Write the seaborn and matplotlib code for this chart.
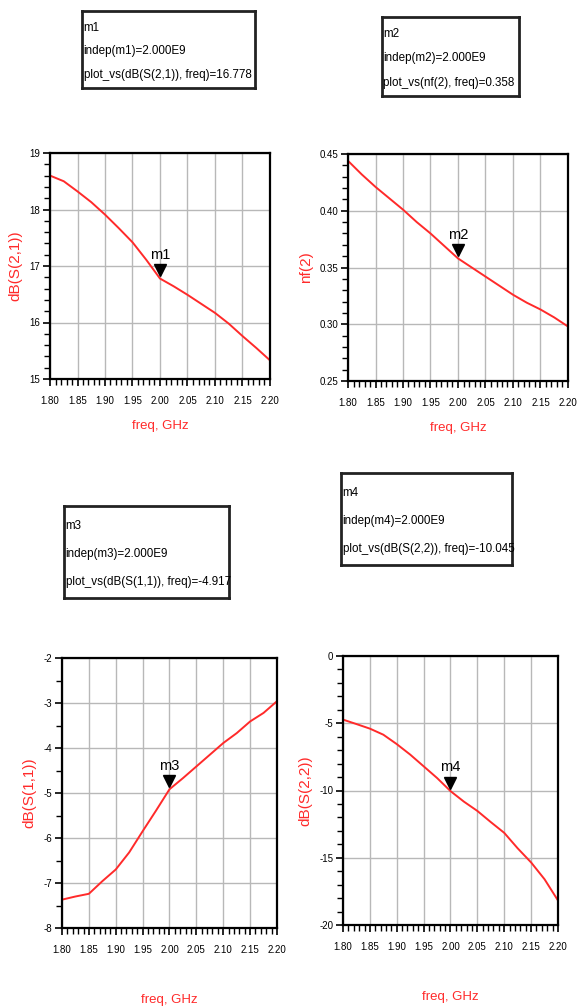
import numpy as np
import pandas as pd
import matplotlib
matplotlib.use("Agg")
import matplotlib.pyplot as plt
import matplotlib.transforms as mtrans
from matplotlib.ticker import MultipleLocator
import seaborn as sns

sns.set_theme(style="white")
plt.rcParams['font.family'] = ['Liberation Sans', 'DejaVu Sans']

freq = [1.800, 1.825, 1.850, 1.875, 1.900, 1.925, 1.950, 1.975, 2.000,
        2.025, 2.050, 2.075, 2.100, 2.125, 2.150, 2.175, 2.200]
s21 = [18.60, 18.50, 18.32, 18.13, 17.91, 17.67, 17.42, 17.11, 16.778,
       16.64, 16.49, 16.33, 16.17, 15.98, 15.76, 15.55, 15.33]
nf2 = [0.444, 0.432, 0.421, 0.411, 0.401, 0.390, 0.380, 0.369, 0.358,
       0.350, 0.342, 0.334, 0.326, 0.319, 0.313, 0.306, 0.298]
s11 = [-7.37, -7.30, -7.24, -6.96, -6.70, -6.32, -5.85, -5.39, -4.917,
       -4.67, -4.41, -4.15, -3.89, -3.67, -3.41, -3.22, -2.96]
s22 = [-4.73, -5.06, -5.40, -5.85, -6.55, -7.33, -8.20, -9.07, -10.045,
       -10.83, -11.52, -12.35, -13.15, -14.30, -15.35, -16.60, -18.18]

xticks = [1.80, 1.85, 1.90, 1.95, 2.00, 2.05, 2.10, 2.15, 2.20]
xticklabels = ["1.80", "1.85", "1.90", "1.95", "2.00", "2.05", "2.10", "2.15", "2.20"]

panels = [
    dict(name="m1", y=s21, ylabel="dB(S(2,1))", yt=[15, 16, 17, 18, 19],
         ytl=["15", "16", "17", "18", "19"], ylim=(15, 19), minor=0.2,
         ind="indep(m1)=2.000E9", val="plot_vs(dB(S(2,1)), freq)=16.778", mval=16.778),
    dict(name="m2", y=nf2, ylabel="nf(2)", yt=[0.25, 0.30, 0.35, 0.40, 0.45],
         ytl=["0.25", "0.30", "0.35", "0.40", "0.45"], ylim=(0.25, 0.45), minor=0.01,
         ind="indep(m2)=2.000E9", val="plot_vs(nf(2), freq)=0.358", mval=0.358),
    dict(name="m3", y=s11, ylabel="dB(S(1,1))", yt=[-8, -7, -6, -5, -4, -3, -2],
         ytl=["-8", "-7", "-6", "-5", "-4", "-3", "-2"], ylim=(-8, -2), minor=0.5,
         ind="indep(m3)=2.000E9", val="plot_vs(dB(S(1,1)), freq)=-4.917", mval=-4.917),
    dict(name="m4", y=s22, ylabel="dB(S(2,2))", yt=[-20, -15, -10, -5, 0],
         ytl=["-20", "-15", "-10", "-5", "0"], ylim=(-20, 0), minor=1,
         ind="indep(m4)=2.000E9", val="plot_vs(dB(S(2,2)), freq)=-10.045", mval=-10.045),
]

W, H = 579, 1006
fig = plt.figure(figsize=(W / 100, H / 100), dpi=100)
fig.patch.set_facecolor("white")

def fr(x0, y0, x1, y1):
    return [x0 / W, 1 - y1 / H, (x1 - x0) / W, (y1 - y0) / H]

ax_rects = [fr(50, 153, 270, 379), fr(348, 154, 568, 381),
            fr(62, 658, 277, 928), fr(343, 656, 558, 925)]
box_rects = [fr(82, 11, 255, 88), fr(382, 17, 519, 96),
             fr(64, 506, 229, 598), fr(341, 473, 512, 565)]
xlabelpads = [10, 10, 28, 28]
red = "#ff2a2a"

for p, rect, brect, lp in zip(panels, ax_rects, box_rects, xlabelpads):
    ax = fig.add_axes(rect)
    df = pd.DataFrame({"freq": freq, "val": p["y"]})
    sns.lineplot(data=df, x="freq", y="val", ax=ax, color=red, linewidth=1.4)
    ax.set_xlim(1.80, 2.20)
    ax.set_ylim(*p["ylim"])
    ax.set_xticks(xticks)
    ax.set_xticklabels(xticklabels)
    ax.set_yticks(p["yt"])
    ax.set_yticklabels(p["ytl"])
    ax.xaxis.set_minor_locator(MultipleLocator(0.01))
    ax.yaxis.set_minor_locator(MultipleLocator(p["minor"]))
    ax.grid(True, which="major", color="#b8b8b8", linewidth=1.0)
    ax.tick_params(which="major", direction="out", length=5, width=1.2,
                   labelsize=7, colors="black", pad=2, bottom=True, left=True)
    ax.tick_params(which="minor", direction="out", length=4, width=1.0,
                   bottom=True, left=True, colors="black")
    ax.tick_params(axis="x", which="major", pad=7)
    for s in ax.spines.values():
        s.set_color("black")
        s.set_linewidth(1.6)
    ax.set_xlabel("freq, GHz", color=red, fontsize=9.5, labelpad=lp)
    ax.set_ylabel(p["ylabel"], color=red, fontsize=11, labelpad=5)
    # marker triangle with tip at data point
    off = mtrans.offset_copy(ax.transData, fig=fig, x=0, y=6, units="points")
    ax.plot([2.0], [p["mval"]], marker="v", markersize=9, color="black",
            transform=off, clip_on=False)
    ax.annotate(p["name"], xy=(2.0, p["mval"]), xytext=(0, 12),
                textcoords="offset points", ha="center", va="bottom",
                fontsize=10.5, color="black")
    # marker readout box
    bx = fig.add_axes(brect)
    bx.set_xticks([])
    bx.set_yticks([])
    for s in bx.spines.values():
        s.set_color("#222222")
        s.set_linewidth(2.0)
    bx.set_facecolor("white")
    lines = [p["name"], p["ind"], p["val"]]
    for i, t in enumerate(lines):
        bx.text(0.01, 0.78 - i * 0.305, t, transform=bx.transAxes, ha="left",
                va="center", fontsize=8.4, color="black")

fig.savefig("out.png", dpi=100, facecolor="white")
